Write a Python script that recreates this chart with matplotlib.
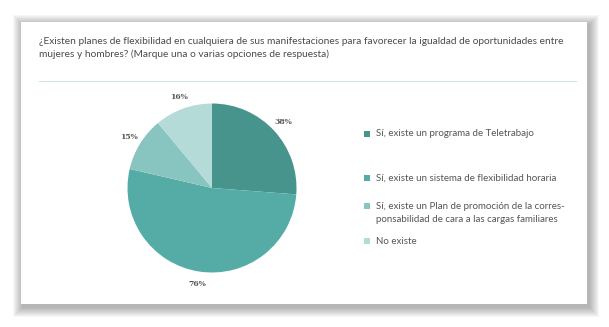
import matplotlib.pyplot as plt
from matplotlib.patches import Rectangle

# survey answers (values as printed on the chart)
values = [38, 76, 15, 16]
value_labels = ['38%', '76%', '15%', '16%']
legend_labels = [
    'Sí, existe un programa de Teletrabajo',
    'Sí, existe un sistema de flexibilidad horaria',
    'Sí, existe un Plan de promoción de la corres-\nponsabilidad de cara a las cargas familiares',
    'No existe',
]
colors = ['#46948c', '#55aca6', '#88c5c0', '#b4dbd7']
title = ('¿Existen planes de flexibilidad en cualquiera de sus manifestaciones para favorecer la igualdad de oportunidades entre\n'
         'mujeres y hombres? (Marque una o varias opciones de respuesta)')

W, H = 609, 327
fig = plt.figure(figsize=(W / 100, H / 100), dpi=100)
fig.patch.set_facecolor('white')

# background layer in pixel coordinates (y down)
bg = fig.add_axes([0, 0, 1, 1])
bg.set_xlim(0, W)
bg.set_ylim(H, 0)
bg.axis('off')

# card with a soft shadow
x0, y0, x1, y1 = 21, 22, 587, 304
for i in range(10, 0, -1):
    bg.add_patch(Rectangle((x0 - i + 2, y0 - i + 3), (x1 - x0) + 2 * i, (y1 - y0) + 2 * i,
                           facecolor='black', edgecolor='none', alpha=0.03))
bg.add_patch(Rectangle((x0, y0), x1 - x0, y1 - y0, facecolor='white', edgecolor='none'))

bg.text(39, 37, title, fontsize=7.3, family=['Lato', 'DejaVu Sans'], color='#4a4a4a',
        va='top', ha='left', linespacing=1.45)
bg.plot([39, 576], [81, 81], color='#cfe4e1', lw=0.8)

# legend drawn by hand
leg_y = [134, 178, 206, 241]
for lab, c, y in zip(legend_labels, colors, leg_y):
    bg.add_patch(Rectangle((364, y - 3), 6, 6, facecolor=c, edgecolor='none'))
    bg.text(376, y - 4 if '\n' in lab else y, lab, fontsize=7.0, family=['Lato', 'DejaVu Sans'],
            color='#555555', va='top' if '\n' in lab else 'center', ha='left', linespacing=1.5)

# pie
cx, cy, r = 212, 188, 84.5
lim = 1.3
half = r * lim
ax = fig.add_axes([(cx - half) / W, (H - cy - half) / H, 2 * half / W, 2 * half / H])
ax.pie(values, colors=colors, startangle=90, counterclock=False, labels=value_labels,
       labeldistance=1.15, textprops=dict(fontsize=5.5, family='DejaVu Serif', color='#555555',
                                          fontweight='bold', ha='center', va='center'))
ax.set_xlim(-lim, lim)
ax.set_ylim(-lim, lim)
ax.set_aspect('equal')

fig.savefig('out.png', dpi=100)
